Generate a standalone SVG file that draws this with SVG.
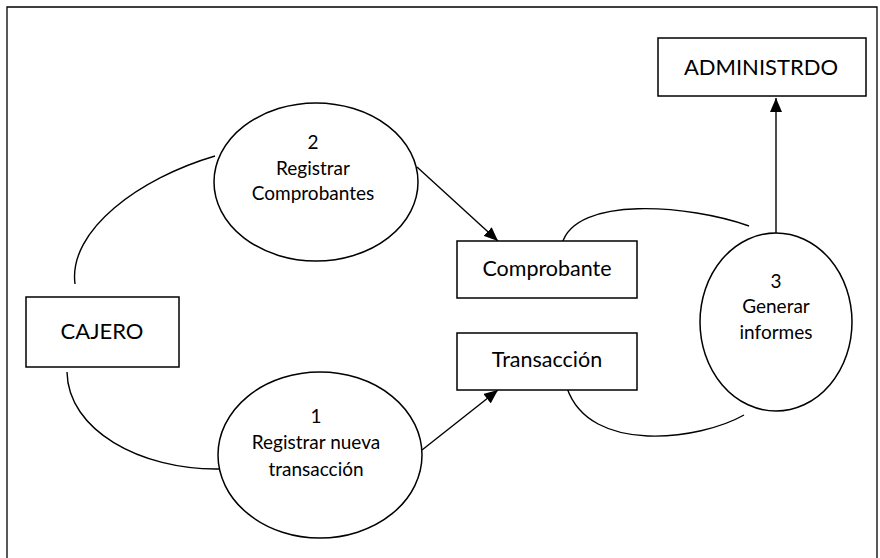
<svg xmlns="http://www.w3.org/2000/svg" width="880" height="558" viewBox="0 0 880 558">
<defs>
<style>
.n{fill:#fff;stroke:#000;stroke-width:1.5}
.c{fill:none;stroke:#000;stroke-width:1.4}
text{font-family:Lato,"Liberation Sans",sans-serif;fill:#000;text-anchor:middle}
.s{font-size:19px}
.b{font-size:21.5px}
.e{font-size:22px}
</style>
<marker id="ah" viewBox="0 0 14 12" refX="14" refY="6" markerWidth="14" markerHeight="12" markerUnits="userSpaceOnUse" orient="auto">
<path d="M0,0 L14,6 L0,12 z" fill="#000"/>
</marker>
</defs>
<rect x="0" y="0" width="880" height="558" fill="#fff"/>
<path d="M7,560 V7 H877 V560" fill="none" stroke="#000" stroke-width="1.3"/>
<g id="connectors">
<path class="c" d="M75,284 C68,230 140,178 215,156"/>
<path class="c" d="M67,372 C68,430 140,470 219,469"/>
<path class="c" d="M562,244 C575,195 690,205 749,226"/>
<path class="c" d="M567,388 C590,455 700,440 744,415"/>
<line class="c" x1="417" y1="167" x2="498" y2="241" marker-end="url(#ah)"/>
<line class="c" x1="422" y1="450" x2="498" y2="390" marker-end="url(#ah)"/>
<line class="c" x1="776" y1="233" x2="776" y2="98" marker-end="url(#ah)"/>
</g>
<g id="cajero">
<rect class="n" x="26" y="297" width="153" height="70"/>
<text class="e" x="102" y="339">CAJERO</text>
</g>
<g id="administrdo">
<rect class="n" x="658" y="38" width="208" height="58"/>
<text class="e" x="761" y="75">ADMINISTRDO</text>
</g>
<g id="comprobante">
<rect class="n" x="457" y="241" width="180" height="57"/>
<text class="b" x="547" y="276">Comprobante</text>
</g>
<g id="transaccion">
<rect class="n" x="457" y="333" width="180" height="57"/>
<text class="b" x="547" y="367">Transacción</text>
</g>
<g id="p2">
<ellipse class="n" cx="316" cy="182" rx="102" ry="79"/>
<text class="s" x="313" y="149">2</text>
<text class="s" x="313" y="175">Registrar</text>
<text class="s" x="313" y="200">Comprobantes</text>
</g>
<g id="p1">
<ellipse class="n" cx="320" cy="455" rx="102" ry="83"/>
<text class="s" x="316" y="423">1</text>
<text class="s" x="316" y="449">Registrar nueva</text>
<text class="s" x="316" y="476">transacción</text>
</g>
<g id="p3">
<ellipse class="n" cx="776" cy="322" rx="76" ry="89"/>
<text class="s" x="776" y="288">3</text>
<text class="s" x="776" y="313">Generar</text>
<text class="s" x="776" y="339">informes</text>
</g>
</svg>
